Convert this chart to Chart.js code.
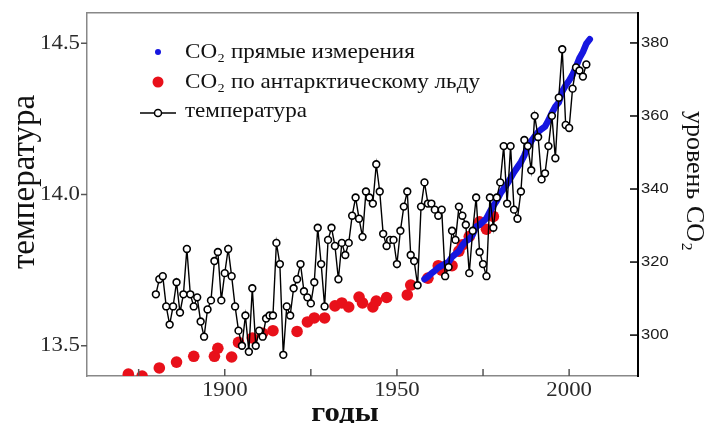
<!DOCTYPE html>
<html>
<head>
<meta charset="utf-8">
<script src="https://cdn.jsdelivr.net/npm/chart.js@4.4.0/dist/chart.umd.min.js"></script>
<style>
  html, body { margin: 0; padding: 0; background: #fff; overflow: hidden; }
</style>
</head>
<body>
<canvas id="chart" width="715" height="423"></canvas>
<script>
// Global temperature (annual)
const tempYears = [
  1880, 1881, 1882, 1883, 1884, 1885, 1886, 1887, 1888, 1889,
  1890, 1891, 1892, 1893, 1894, 1895, 1896, 1897, 1898, 1899,
  1900, 1901, 1902, 1903, 1904, 1905, 1906, 1907, 1908, 1909,
  1910, 1911, 1912, 1913, 1914, 1915, 1916, 1917, 1918, 1919,
  1920, 1921, 1922, 1923, 1924, 1925, 1926, 1927, 1928, 1929,
  1930, 1931, 1932, 1933, 1934, 1935, 1936, 1937, 1938, 1939,
  1940, 1941, 1942, 1943, 1944, 1945, 1946, 1947, 1948, 1949,
  1950, 1951, 1952, 1953, 1954, 1955, 1956, 1957, 1958, 1959,
  1960, 1961, 1962, 1963, 1964, 1965, 1966, 1967, 1968, 1969,
  1970, 1971, 1972, 1973, 1974, 1975, 1976, 1977, 1978, 1979,
  1980, 1981, 1982, 1983, 1984, 1985, 1986, 1987, 1988, 1989,
  1990, 1991, 1992, 1993, 1994, 1995, 1996, 1997, 1998, 1999,
  2000, 2001, 2002, 2003, 2004, 2005
];
const tempValues = [
  13.67, 13.72, 13.73, 13.63, 13.57, 13.63, 13.71, 13.61, 13.67, 13.82,
  13.67, 13.63, 13.66, 13.58, 13.53, 13.62, 13.65, 13.78, 13.81, 13.65,
  13.74, 13.82, 13.73, 13.63, 13.55, 13.50, 13.60, 13.48, 13.69, 13.50,
  13.55, 13.53, 13.59, 13.60, 13.60, 13.84, 13.77, 13.47, 13.63, 13.60,
  13.69, 13.72, 13.77, 13.68, 13.66, 13.64, 13.71, 13.89, 13.77, 13.63,
  13.85, 13.89, 13.83, 13.72, 13.84, 13.80, 13.84, 13.93, 13.99, 13.92,
  13.86, 14.01, 13.99, 13.97, 14.10, 14.01, 13.87, 13.83, 13.85, 13.85,
  13.77, 13.88, 13.96, 14.01, 13.80, 13.78, 13.70, 13.96, 14.04, 13.97,
  13.97, 13.95, 13.93, 13.95, 13.73, 13.76, 13.88, 13.85, 13.96, 13.93,
  13.90, 13.74, 13.88, 13.99, 13.81, 13.77, 13.73, 13.99, 13.89, 13.99,
  14.04, 14.16, 13.97, 14.16, 13.95, 13.92, 14.01, 14.18, 14.16, 14.08,
  14.26, 14.19, 14.05, 14.07, 14.16, 14.26, 14.12, 14.32, 14.48, 14.23,
  14.22, 14.35, 14.42, 14.41, 14.39, 14.43
];

// CO2 from Antarctic ice cores
const iceYears = [
  1872, 1876, 1881, 1886, 1891, 1897, 1898, 1902, 1904, 1908,
  1911, 1914, 1921, 1924, 1926, 1929, 1932, 1934, 1936, 1939,
  1940, 1943, 1944, 1947, 1953, 1954, 1959, 1962, 1963, 1966,
  1968, 1969, 1971, 1974, 1976, 1978
];
const iceCO2 = [
  289.3, 288.8, 291.0, 292.6, 294.2, 294.2, 296.4, 294.0, 298.0, 299.2,
  300.5, 301.2, 301.0, 303.6, 304.7, 304.7, 308.0, 308.8, 307.7, 310.4,
  308.8, 307.7, 309.3, 310.3, 311.0, 313.7, 315.6, 319.0, 317.8, 319.0,
  323.0, 324.7, 327.0, 331.0, 329.0, 332.5
];

// CO2 direct measurements
const mloYears = [
  1958, 1959, 1960, 1961, 1962, 1963, 1964, 1965, 1966, 1967,
  1968, 1969, 1970, 1971, 1972, 1973, 1974, 1975, 1976, 1977,
  1978, 1979, 1980, 1981, 1982, 1983, 1984, 1985, 1986, 1987,
  1988, 1989, 1990, 1991, 1992, 1993, 1994, 1995, 1996, 1997,
  1998, 1999, 2000, 2001, 2002, 2003, 2004, 2005, 2006
];
const mloCO2 = [
  315.3, 316.0, 316.9, 317.6, 318.5, 319.0, 319.6, 320.0, 321.4, 322.2,
  323.0, 324.6, 325.7, 326.3, 327.5, 329.7, 330.2, 331.1, 332.0, 333.8,
  335.4, 336.8, 338.7, 340.1, 341.4, 343.0, 344.6, 346.0, 347.4, 349.2,
  351.6, 353.1, 354.4, 355.6, 356.4, 357.1, 358.8, 360.8, 362.6, 363.7,
  366.7, 368.4, 369.7, 371.3, 373.5, 375.8, 377.5, 379.8, 381.0
];

const tempTicks = [13.5, 14.0, 14.5];
const co2Ticks = [300, 320, 340, 360, 380];
const yearTicks = [1875, 1900, 1925, 1950, 1975, 2000];

const labelDirect = 'CO₂ прямые измерения';
const labelIce = 'CO₂ по антарктическому льду';
const labelTemp = 'температура';
const titleLeft = 'температура';
const titleRight = 'уровень CO₂';
const titleBottom = 'годы';

const serif = '"Liberation Serif", "DejaVu Serif", serif';
const sans = '"Liberation Sans", Arial, sans-serif';
const stretch = 1.14; // the lettering in the original is a bit wide

const toPoints = (xs, ys) => xs.map((x, i) => ({ x: x, y: ys[i] }));

// text helper, with horizontal stretch
function drawText(c, text, x, y, font, align, baseline, sx) {
  c.save();
  c.font = font;
  c.textAlign = align;
  c.textBaseline = baseline || 'middle';
  c.translate(x, y);
  c.scale(sx || 1, 1);
  c.fillText(text, 0, 0);
  c.restore();
}

// ticks and tick labels: left outward, bottom and right inward
const axisDecor = {
  id: 'axisDecor',
  afterDraw(chart) {
    const c = chart.ctx;
    const a = chart.chartArea;
    const s = chart.scales;
    c.save();
    c.lineWidth = 1.5;
    c.strokeStyle = '#555';
    c.fillStyle = '#2a2a2a';
    s.x.ticks.forEach(t => {
      const px = s.x.getPixelForValue(t.value);
      c.beginPath(); c.moveTo(px, a.bottom); c.lineTo(px, a.bottom - 7); c.stroke();
      if (t.value % 50 === 0) {
        drawText(c, String(t.value), px, a.bottom + 15, '20px ' + serif, 'center', 'middle', stretch);
      }
    });
    s.yT.ticks.forEach(t => {
      const py = s.yT.getPixelForValue(t.value);
      c.beginPath(); c.moveTo(a.left, py); c.lineTo(a.left - 6, py); c.stroke();
      drawText(c, t.value.toFixed(1), a.left - 7, py, '20px ' + serif, 'right', 'middle', stretch);
    });
    c.strokeStyle = '#000';
    c.fillStyle = '#1a1a1a';
    s.yCO2.ticks.forEach(t => {
      const py = s.yCO2.getPixelForValue(t.value);
      c.beginPath(); c.moveTo(a.right, py); c.lineTo(a.right - 8, py); c.stroke();
      drawText(c, String(t.value), a.right + 3, py, '14.5px ' + sans, 'left', 'middle', stretch);
    });
    c.restore();
  }
};

// legend and axis titles
const decorations = {
  id: 'decorations',
  afterDraw(chart) {
    const c = chart.ctx;
    c.save();
    c.fillStyle = '#1616e0';
    c.beginPath(); c.arc(158, 52, 3, 0, Math.PI * 2); c.fill();
    c.fillStyle = '#e8101a';
    c.beginPath(); c.arc(158, 82, 5.5, 0, Math.PI * 2); c.fill();
    c.strokeStyle = '#000';
    c.lineWidth = 1.5;
    c.beginPath(); c.moveTo(140, 113); c.lineTo(176, 113); c.stroke();
    c.fillStyle = '#fff';
    c.beginPath(); c.arc(158, 113, 3.5, 0, Math.PI * 2); c.fill(); c.stroke();

    c.fillStyle = '#111';
    const lf = '21px ' + serif;
    drawText(c, labelDirect, 185, 52, lf, 'left', 'middle', 1.1);
    drawText(c, labelIce, 185, 82, lf, 'left', 'middle', 1.1);
    drawText(c, labelTemp, 185, 111, lf, 'left', 'middle', 1.1);

    c.save();
    c.translate(25, 182);
    c.rotate(-Math.PI / 2);
    drawText(c, titleLeft, 0, 0, '33px ' + serif, 'center', 'middle', 1);
    c.restore();

    c.save();
    c.translate(694, 181);
    c.rotate(Math.PI / 2);
    drawText(c, titleRight, 0, 0, '26px ' + serif, 'center', 'middle', 1);
    c.restore();

    drawText(c, titleBottom, 345, 421, 'bold 27px ' + serif, 'center', 'alphabetic', stretch);
    c.restore();
  }
};

const ctx = document.getElementById('chart').getContext('2d');
new Chart(ctx, {
  type: 'line',
  data: {
    datasets: [
      {
        label: labelIce,
        data: toPoints(iceYears, iceCO2),
        yAxisID: 'yCO2',
        showLine: false,
        pointRadius: 5.8,
        pointBackgroundColor: '#e8101a',
        pointBorderWidth: 0,
        order: 3
      },
      {
        label: labelDirect,
        data: toPoints(mloYears, mloCO2),
        yAxisID: 'yCO2',
        borderColor: '#1616e0',
        borderWidth: 6.5,
        borderCapStyle: 'round',
        pointRadius: 0,
        order: 2
      },
      {
        label: labelTemp,
        data: toPoints(tempYears, tempValues),
        yAxisID: 'yT',
        borderColor: '#000',
        borderWidth: 1.4,
        pointRadius: 3.4,
        pointBackgroundColor: '#fff',
        pointBorderColor: '#000',
        pointBorderWidth: 1.6,
        order: 1
      }
    ]
  },
  options: {
    responsive: false,
    animation: false,
    layout: { padding: { top: 13, left: 0, right: 0, bottom: 0 } },
    plugins: {
      legend: { display: false },
      tooltip: { enabled: false }
    },
    scales: {
      x: {
        type: 'linear',
        position: 'bottom',
        min: 1860,
        max: 2020,
        afterBuildTicks: s => { s.ticks = yearTicks.map(v => ({ value: v })); },
        afterFit: s => { s.height = 47; },
        grid: { display: false },
        border: { color: '#888', width: 1.5 },
        ticks: { display: false }
      },
      xTop: {
        type: 'linear',
        position: 'top',
        afterFit: s => { s.height = 0; },
        grid: { display: false },
        border: { color: '#888', width: 1.5 },
        ticks: { display: false }
      },
      yT: {
        type: 'linear',
        position: 'left',
        min: 13.4,
        max: 14.6,
        afterBuildTicks: s => { s.ticks = tempTicks.map(v => ({ value: v })); },
        afterFit: s => { s.width = 87; },
        grid: { display: false },
        border: { color: '#888', width: 1.5 },
        ticks: { display: false }
      },
      yCO2: {
        type: 'linear',
        position: 'right',
        min: 288.8,
        max: 388.2,
        afterBuildTicks: s => { s.ticks = co2Ticks.map(v => ({ value: v })); },
        afterFit: s => { s.width = 77; },
        grid: { display: false },
        border: { color: '#000', width: 2 },
        ticks: { display: false }
      }
    }
  },
  plugins: [axisDecor, decorations]
});
</script>
</body>
</html>
